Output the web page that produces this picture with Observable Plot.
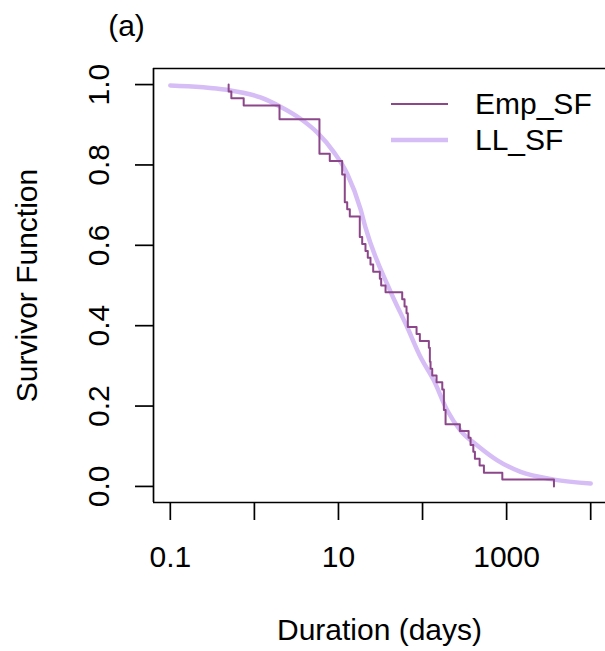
<!DOCTYPE html>
<html>
<head>
<meta charset="utf-8">
<script src="https://cdn.jsdelivr.net/npm/d3@7"></script>
<script src="https://cdn.jsdelivr.net/npm/@observablehq/plot@0.6"></script>
<style>
  html, body { margin: 0; padding: 0; background: #fff; }
  #wrap { position: relative; width: 605px; height: 651px; overflow: hidden; }
  #legend { position: absolute; left: 391px; top: 85.5px; font-family: "Liberation Sans", Arial, Helvetica, sans-serif; font-size: 30px; color: #000; }
  .row { display: flex; align-items: center; height: 36.5px; line-height: 36.5px; }
  .row svg { display: block; margin-right: 27px; }
</style>
</head>
<body>
<div id="wrap"></div>
<script>
// Empirical survivor function (step): event times (days) and survival after each time
const empTime = [0.494, 0.494, 0.532, 0.746, 1.99, 5.94, 7.88, 11.07, 11.89, 12.70, 13.64, 17.93, 19.15, 20.96, 22.32, 24.04, 25.88, 31.04, 32.2, 36.3, 57.3, 61.1, 64.5, 66.8, 84.9, 92.9, 118.9, 122.2, 124.5, 130.4, 146.8, 171.7, 179.4, 187.9, 278, 353, 372.6, 401.5, 419.6, 477.5, 537, 889, 3656];
const empSurv = [1.0, 0.983, 0.966, 0.948, 0.914, 0.828, 0.810, 0.776, 0.707, 0.690, 0.672, 0.621, 0.603, 0.586, 0.569, 0.552, 0.534, 0.517, 0.500, 0.483, 0.466, 0.448, 0.431, 0.397, 0.379, 0.362, 0.345, 0.310, 0.293, 0.276, 0.259, 0.241, 0.190, 0.155, 0.138, 0.121, 0.103, 0.086, 0.069, 0.052, 0.034, 0.017, 0.0];

// Fitted log-logistic survivor function
const llTime = [0.1, 0.47, 1.18, 2.04, 3.53, 5.57, 8.8, 12.7, 18.3, 20.9, 41.6, 65.8, 94.6, 136, 197, 283, 448, 775, 1468, 3656, 10000];
const llSurv = [0.998, 0.987, 0.968, 0.945, 0.915, 0.881, 0.832, 0.778, 0.690, 0.645, 0.485, 0.396, 0.322, 0.264, 0.189, 0.139, 0.102, 0.065, 0.036, 0.017, 0.007];

// Axes
const xTicks = [0.1, 1, 10, 100, 1000, 10000];
const xTickLabels = ["0.1", "", "10", "", "1000", ""];
const yTicks = [0, 0.2, 0.4, 0.6, 0.8, 1.0];
const yTickLabels = ["0.0", "0.2", "0.4", "0.6", "0.8", "1.0"];
const xDomain = [0.0631, 15000];
const yDomain = [-0.04, 1.04];

const seriesNames = ["Emp_SF", "LL_SF"];
const seriesColors = ["#8B4789", "#D6BDF5"];
const seriesWidths = [2, 4.5];

const titleText = "(a)";
const xTitle = "Duration (days)";
const yTitle = "Survivor Function";

const emp = empTime.map((t, i) => ({t, s: empSurv[i]}));
const ll = llTime.map((t, i) => ({t, s: llSurv[i]}));

const font = '"Liberation Sans", Arial, Helvetica, sans-serif';

const chart = Plot.plot({
  width: 605,
  height: 651,
  marginTop: 68,
  marginLeft: 153,
  marginBottom: 149,
  marginRight: 0,
  x: {type: "log", domain: xDomain},
  y: {domain: yDomain},
  style: {fontFamily: font, fontSize: "30px", color: "#000", background: "#fff", overflow: "hidden"},
  marks: [
    Plot.ruleX([xDomain[0]], {stroke: "#000", strokeWidth: 1.7}),
    Plot.ruleY([yDomain[0], yDomain[1]], {stroke: "#000", strokeWidth: 1.7}),
    Plot.axisX(xTicks, {anchor: "bottom", tickSize: 18, tickPadding: 25, strokeWidth: 1.7,
      tickFormat: d => xTickLabels[xTicks.indexOf(d)], fontSize: 30, label: null}),
    Plot.axisY(yTicks, {anchor: "left", tickSize: 18, strokeWidth: 1.7,
      tickFormat: () => "", label: null}),
    Plot.text(yTicks, {y: d => d, text: (d, i) => yTickLabels[i], frameAnchor: "left", dx: -54, rotate: -90,
      textAnchor: "middle", lineAnchor: "middle", fontSize: 30, fill: "#000"}),
    Plot.line(ll, {x: "t", y: "s", curve: "monotone-x", stroke: seriesColors[1], strokeWidth: seriesWidths[1]}),
    Plot.line(emp, {x: "t", y: "s", curve: "step-after", stroke: seriesColors[0], strokeWidth: seriesWidths[0]}),
    Plot.text([xTitle], {text: d => d, frameAnchor: "bottom", dy: 128, textAnchor: "middle", lineAnchor: "middle", fontSize: 30, fill: "#000"}),
    Plot.text([yTitle], {text: d => d, frameAnchor: "left", dx: -126, rotate: -90, textAnchor: "middle", lineAnchor: "middle", fontSize: 30, fill: "#000"}),
    Plot.text([titleText], {text: d => d, frameAnchor: "top-left", dx: -27, dy: -42, textAnchor: "middle", lineAnchor: "middle", fontSize: 30, fill: "#000"})
  ]
});

const wrap = document.getElementById("wrap");
wrap.appendChild(chart);

const legend = document.createElement("div");
legend.id = "legend";
seriesNames.forEach((name, i) => {
  const row = document.createElement("div");
  row.className = "row";
  row.innerHTML = `<svg width="57" height="10"><line x1="0" x2="57" y1="5" y2="5" stroke="${seriesColors[i]}" stroke-width="${seriesWidths[i]}"/></svg><span>${name}</span>`;
  legend.appendChild(row);
});
wrap.appendChild(legend);
</script>
</body>
</html>
